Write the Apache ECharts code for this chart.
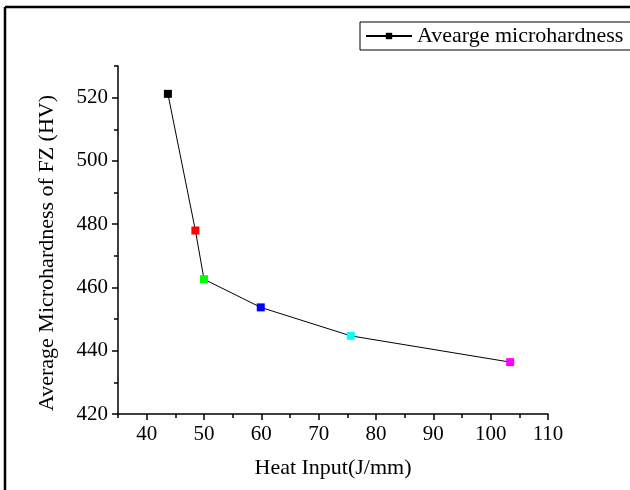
<!DOCTYPE html>
<html>
<head>
<meta charset="utf-8">
<script src="https://cdn.jsdelivr.net/npm/echarts@6/dist/echarts.min.js"></script>
<style>
  html, body { margin: 0; padding: 0; background: #fff; }
  #chart { width: 630px; height: 490px; }
</style>
</head>
<body>
<div id="chart"></div>
<script>
// Heat input (J/mm) and the average microhardness of the fusion zone (HV)
const heatInput = [43.7, 48.5, 50.0, 59.9, 75.6, 103.4];
const hardness = [521.2, 478.0, 462.6, 453.7, 444.7, 436.4];
const pointColors = ['#000000', '#ff0000', '#00ff00', '#0000ff', '#00ffff', '#ff00ff'];
const seriesName = 'Avearge microhardness';

const xMajor = [40, 50, 60, 70, 80, 90, 100, 110];
const xMinor = [35, 45, 55, 65, 75, 85, 95, 105];
const yMajor = [420, 440, 460, 480, 500, 520];
const yMinor = [430, 450, 470, 490, 510, 530];

const FONT = '"Liberation Serif", "Times New Roman", serif';
const axisLine = { show: true, lineStyle: { color: '#000', width: 1.5 } };

const chart = echarts.init(document.getElementById('chart'), null, { renderer: 'canvas' });

chart.setOption({
  backgroundColor: '#fff',
  animation: false,
  grid: { left: 118, right: 82, top: 66, bottom: 76, containLabel: false, outerBoundsMode: 'none' },
  legend: {
    left: 360,
    top: 22,
    padding: [3, 40, 3, 5],
    borderColor: '#000',
    borderWidth: 1,
    itemWidth: 46,
    itemHeight: 8,
    textStyle: { fontFamily: FONT, fontSize: 22, color: '#000' },
    data: [seriesName]
  },
  xAxis: [
    {
      type: 'value', min: 35, max: 110,
      name: 'Heat Input(J/mm)', nameLocation: 'middle', nameGap: 43,
      nameTextStyle: { fontFamily: FONT, fontSize: 22, color: '#000' },
      axisLine: axisLine,
      axisTick: { show: true, inside: false, length: 6, customValues: xMajor, lineStyle: { color: '#000', width: 1.5 } },
      axisLabel: { customValues: xMajor, margin: 10, fontFamily: FONT, fontSize: 21, color: '#000' },
      splitLine: { show: false }
    },
    {
      type: 'value', min: 35, max: 110, position: 'bottom',
      axisLine: { show: false },
      axisTick: { show: true, inside: false, length: 4, customValues: xMinor, lineStyle: { color: '#000', width: 1.5 } },
      axisLabel: { show: false },
      splitLine: { show: false }
    }
  ],
  yAxis: [
    {
      type: 'value', min: 420, max: 530,
      name: 'Average Microhardness of FZ (HV)', nameLocation: 'middle', nameGap: 60,
      nameTextStyle: { fontFamily: FONT, fontSize: 22, color: '#000', padding: [0, 26, 0, 0] },
      axisLine: axisLine,
      axisTick: { show: true, inside: false, length: 6, customValues: yMajor, lineStyle: { color: '#000', width: 1.5 } },
      axisLabel: { customValues: yMajor, margin: 10, fontFamily: FONT, fontSize: 21, color: '#000' },
      splitLine: { show: false }
    },
    {
      type: 'value', min: 420, max: 530, position: 'left',
      axisLine: { show: false },
      axisTick: { show: true, inside: false, length: 4, customValues: yMinor, lineStyle: { color: '#000', width: 1.5 } },
      axisLabel: { show: false },
      splitLine: { show: false }
    }
  ],
  graphic: [
    // outer frame: top and left edges
    { type: 'line', shape: { x1: 5, y1: 7, x2: 630, y2: 7 }, style: { stroke: '#000', lineWidth: 2.5 }, z: 100 },
    { type: 'line', shape: { x1: 5, y1: 7, x2: 5, y2: 490 }, style: { stroke: '#000', lineWidth: 2.5 }, z: 100 }
  ],
  series: [
    {
      name: seriesName,
      type: 'line',
      xAxisIndex: 0,
      yAxisIndex: 0,
      symbol: 'rect',
      symbolSize: 8,
      color: '#000',
      lineStyle: { color: '#000', width: 1 },
      itemStyle: { color: '#000' },
      data: heatInput.map((x, i) => ({
        value: [x, hardness[i]],
        itemStyle: { color: pointColors[i] }
      }))
    }
  ]
});
</script>
</body>
</html>
